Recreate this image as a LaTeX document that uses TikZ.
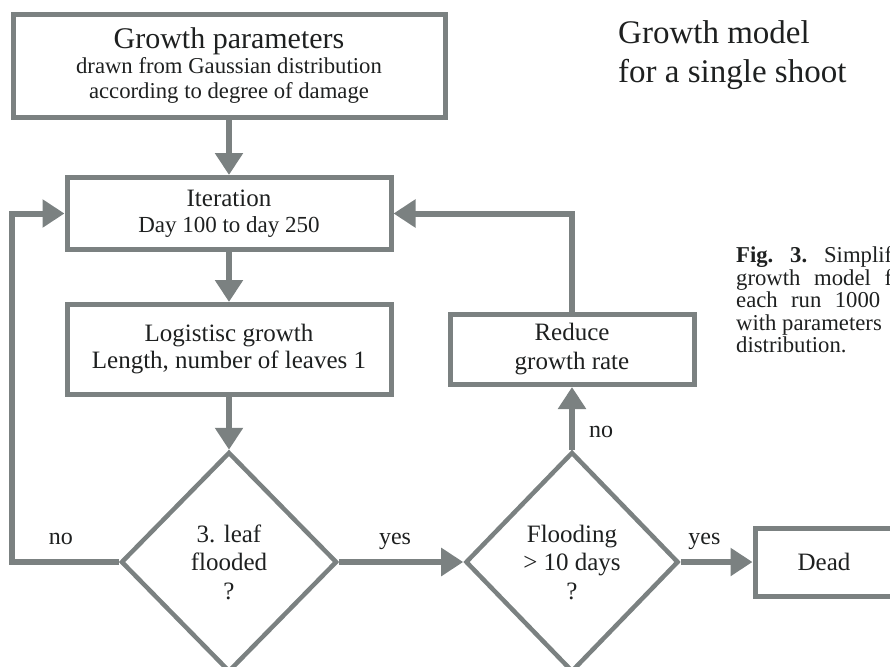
\documentclass[tikz,border=0pt]{standalone}
\usepackage{fontspec}
\setmainfont{Liberation Serif}
\usepackage{tikz}
\usetikzlibrary{shapes.geometric, arrows.meta, positioning}
\definecolor{flowgray}{RGB}{123,129,129}
\definecolor{flowtext}{RGB}{30,32,32}
\tikzstyle{process} = [rectangle, minimum width=324pt, minimum height=72pt, text centered, align=center, draw=flowgray, line width=5pt, font={\fontsize{25}{26}\selectfont}]
\tikzstyle{decision} = [diamond, minimum width=214pt, minimum height=220pt, inner sep=0pt, text centered, align=center, draw=flowgray, line width=4.5pt, font={\fontsize{25}{28.5}\selectfont}]
\tikzstyle{arrow} = [line width=6pt, draw=flowgray, -{Triangle[length=22pt,width=27pt]}]
\tikzstyle{answer} = [inner sep=0pt, text depth=0pt, font={\fontsize{24}{24}\selectfont}]

\begin{document}
\begin{tikzpicture}[node distance=136pt, text=flowtext]

        \useasboundingbox (0,0) rectangle (890pt,-666pt);

        \node (params) [process, minimum width=432pt, minimum height=102pt, font={\fontsize{22.7}{25}\selectfont}] at (229pt,-66pt) {{\fontsize{30}{30}\selectfont Growth parameters}\\drawn from Gaussian distribution\\according to degree of damage};
        \node (iter) [process, below of=params, yshift=-11.5pt] {Iteration\\{\fontsize{23}{26}\selectfont Day 100 to day 250}};
        \node (logistic) [process, below of=iter, minimum height=90pt, font={\fontsize{25}{27}\selectfont}] {Logistisc growth\\Length, number of leaves 1};
        \node (check) [decision, below of=logistic, yshift=-76.5pt, minimum width=216pt] {3. leaf\\flooded\\?};
        \node (flood) [decision, right of=check, xshift=207pt, minimum width=213pt] {Flooding\\\textgreater{} 10 days\\?};
        \node (reduce) [process, above of=flood, yshift=76.5pt, minimum width=244pt, minimum height=70pt, font={\fontsize{25}{29}\selectfont}] {Reduce\\growth rate};
        \node (dead) [process, right of=flood, xshift=116pt, minimum width=138pt, minimum height=68pt] {Dead};

        \node (title) [anchor=north west, inner sep=0pt, align=left, font={\fontsize{33}{39}\selectfont}] at (618pt,-20.5pt) {Growth model\\for a single shoot};
        \node (caption) [anchor=north west, inner sep=0pt, align=left, font={\fontsize{22.7}{22.5}\selectfont}] at (736pt,-246.5pt) {\makebox[156pt][s]{\textbf{Fig. 3.} Simplif}\\\makebox[156pt][s]{growth model f}\\\makebox[144pt][s]{each run 1000}\\with parameters\\distribution.};

        \draw [arrow] (params) -- (iter);
        \draw [arrow] (iter) -- (logistic);
        \draw [arrow] (logistic) -- (check);
        \draw [arrow] (check) -- node[answer, above=15pt, pos=0.45] {yes} (flood);
        \draw [arrow] (flood) -- node[answer, above=15pt, pos=0.33] {yes} (dead);
        \draw [arrow] (flood) -- node[answer, right=14pt, pos=0.28] {no} (reduce);
        \draw [arrow] (reduce) |- (iter);
        \draw [arrow] (check.west) -- node[answer, above=15pt, pos=0.54] {no} ++(-107pt,0) |- (iter.west);

    \end{tikzpicture}
\end{document}
